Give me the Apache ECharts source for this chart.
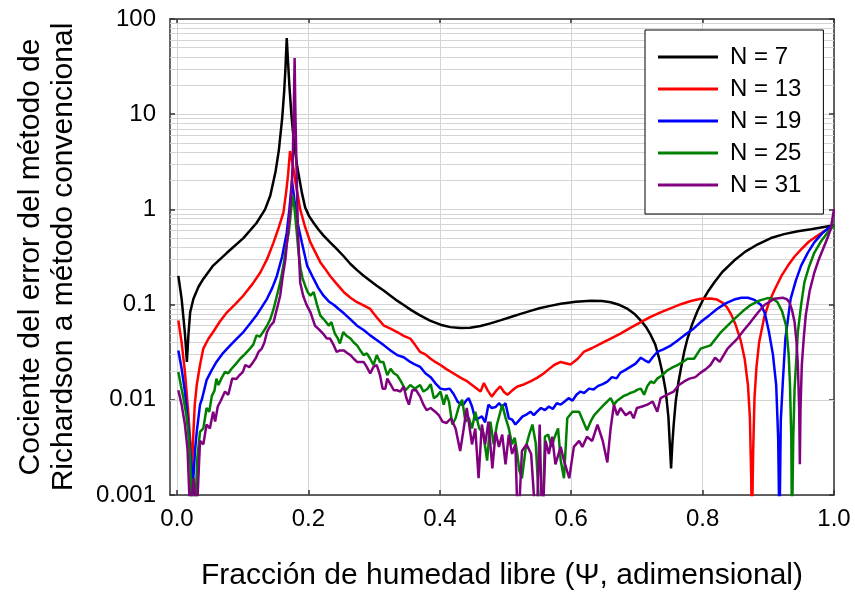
<!DOCTYPE html>
<html>
<head>
<meta charset="utf-8">
<script src="https://cdn.jsdelivr.net/npm/echarts@6/dist/echarts.min.js"></script>
<style>html,body{margin:0;padding:0;background:#fff}#c{width:855px;height:596px}</style>
</head>
<body>
<div id="c"></div>
<script>
const seriesNames = ['N = 7', 'N = 13', 'N = 19', 'N = 25', 'N = 31'];
const xTickValues = [0, 0.2, 0.4, 0.6, 0.8, 1.0];
const yTickLabels = ['0.001', '0.01', '0.1', '1', '10', '100'];
const yMinorGrid = [0.002,0.003,0.004,0.005,0.006,0.007,0.008,0.009,
  0.02,0.03,0.04,0.05,0.06,0.07,0.08,0.09,
  0.2,0.3,0.4,0.5,0.6,0.7,0.8,0.9,
  2,3,4,5,6,7,8,9, 20,30,40,50,60,70,80,90];

const dataN7 = [[0.002,0.2],[0.007,0.115],[0.012,0.05],[0.015,0.025],[0.0175,0.05],[0.02,0.083],[0.025,0.115],[0.0325,0.153],[0.04,0.186],[0.055,0.257],[0.076,0.35],[0.101,0.50],[0.121,0.72],[0.134,1.0],[0.142,1.4],[0.150,2.5],[0.155,4.2],[0.160,9],[0.163,17],[0.165,30],[0.167,63],[0.169,35],[0.171,20],[0.174,10],[0.178,5],[0.183,2.8],[0.19,1.5],[0.195,1.05],[0.201,0.85],[0.208,0.72],[0.215,0.62],[0.223,0.53],[0.233,0.45],[0.243,0.384],[0.254,0.32],[0.264,0.267],[0.274,0.23],[0.284,0.201],[0.294,0.178],[0.304,0.158],[0.315,0.14],[0.325,0.124],[0.335,0.11],[0.345,0.099],[0.357,0.087],[0.37,0.077],[0.385,0.068],[0.401,0.0615],[0.416,0.058],[0.431,0.0567],[0.446,0.057],[0.462,0.0595],[0.477,0.0635],[0.492,0.0683],[0.508,0.074],[0.523,0.080],[0.538,0.086],[0.553,0.092],[0.568,0.097],[0.584,0.102],[0.607,0.107],[0.63,0.110],[0.647,0.109],[0.66,0.106],[0.674,0.099],[0.686,0.090],[0.697,0.079],[0.706,0.068],[0.714,0.058],[0.721,0.048],[0.728,0.038],[0.734,0.027],[0.739,0.019],[0.744,0.0122],[0.748,0.0065],[0.750,0.0035],[0.752,0.0019],[0.754,0.0035],[0.756,0.0055],[0.759,0.0095],[0.763,0.015],[0.767,0.0213],[0.772,0.032],[0.777,0.044],[0.784,0.062],[0.792,0.085],[0.800,0.11],[0.809,0.14],[0.818,0.172],[0.83,0.22],[0.848,0.29],[0.865,0.36],[0.884,0.43],[0.904,0.50],[0.924,0.55],[0.945,0.59],[0.965,0.62],[0.985,0.655],[1.0,0.68]];

const dataN13 = [[0.002,0.068],[0.007,0.04],[0.012,0.0196],[0.017,0.0075],[0.021,0.003],[0.022,0.0015],[0.025,0.0046],[0.027,0.0089],[0.03,0.0143],[0.035,0.0232],[0.04,0.0345],[0.048,0.044],[0.055,0.0515],[0.065,0.066],[0.076,0.083],[0.088,0.10],[0.101,0.1245],[0.115,0.165],[0.127,0.219],[0.137,0.30],[0.147,0.45],[0.155,0.65],[0.162,0.93],[0.166,1.5],[0.169,2.3],[0.172,4.1],[0.176,3.0],[0.18,2.0],[0.1875,1.0],[0.195,0.65],[0.203,0.45],[0.21,0.36],[0.218,0.279],[0.225,0.24],[0.233,0.20],[0.243,0.165],[0.254,0.135],[0.264,0.118],[0.274,0.106],[0.284,0.098],[0.294,0.090],[0.305,0.072],[0.315,0.060],[0.325,0.056],[0.335,0.0515],[0.345,0.047],[0.355,0.044],[0.362,0.038],[0.37,0.0318],[0.378,0.030],[0.386,0.027],[0.393,0.025],[0.401,0.0232],[0.41,0.021],[0.421,0.0189],[0.432,0.017],[0.442,0.0156],[0.452,0.0138],[0.462,0.0122],[0.467,0.0150],[0.473,0.0125],[0.479,0.0108],[0.486,0.0125],[0.492,0.0138],[0.498,0.0120],[0.503,0.0113],[0.51,0.0125],[0.518,0.0138],[0.528,0.0145],[0.538,0.0156],[0.548,0.017],[0.558,0.0189],[0.566,0.021],[0.574,0.0232],[0.584,0.025],[0.599,0.0235],[0.61,0.027],[0.619,0.0318],[0.632,0.035],[0.645,0.0389],[0.66,0.044],[0.675,0.0495],[0.69,0.057],[0.706,0.0655],[0.72,0.074],[0.736,0.083],[0.752,0.092],[0.767,0.101],[0.782,0.109],[0.797,0.115],[0.812,0.116],[0.822,0.113],[0.83,0.105],[0.837,0.094],[0.843,0.08],[0.85,0.062],[0.858,0.042],[0.864,0.027],[0.869,0.0143],[0.872,0.0065],[0.874,0.0015],[0.875,0.0004],[0.877,0.003],[0.879,0.0105],[0.882,0.022],[0.886,0.040],[0.894,0.075],[0.902,0.11],[0.91,0.145],[0.92,0.2],[0.93,0.257],[0.94,0.32],[0.95,0.38],[0.962,0.46],[0.975,0.53],[0.985,0.59],[0.995,0.65],[1.0,0.68]];

const dataN19 = [[0.002,0.033],[0.007,0.0212],[0.012,0.0122],[0.017,0.0055],[0.021,0.0024],[0.024,0.0012],[0.0275,0.003],[0.03,0.0046],[0.035,0.0089],[0.038,0.0102],[0.045,0.0161],[0.052,0.02],[0.06,0.025],[0.07,0.031],[0.081,0.0373],[0.091,0.044],[0.101,0.0515],[0.111,0.063],[0.121,0.0773],[0.129,0.094],[0.137,0.115],[0.145,0.15],[0.152,0.20],[0.16,0.32],[0.167,0.57],[0.171,1.0],[0.175,2.0],[0.179,1.2],[0.184,0.7],[0.19,0.45],[0.198,0.257],[0.208,0.186],[0.215,0.15],[0.223,0.124],[0.231,0.108],[0.239,0.099],[0.246,0.09],[0.254,0.081],[0.264,0.07],[0.274,0.060],[0.284,0.054],[0.294,0.0475],[0.305,0.042],[0.315,0.0373],[0.325,0.033],[0.335,0.0295],[0.345,0.028],[0.355,0.025],[0.362,0.0235],[0.37,0.0222],[0.378,0.019],[0.386,0.0173],[0.393,0.015],[0.401,0.0131],[0.408,0.0128],[0.415,0.0131],[0.421,0.0115],[0.427,0.0096],[0.432,0.0089],[0.436,0.0089],[0.44,0.0098],[0.444,0.0104],[0.449,0.0085],[0.454,0.0062],[0.459,0.0064],[0.464,0.0067],[0.469,0.0058],[0.474,0.0089],[0.479,0.0082],[0.485,0.0084],[0.49,0.0092],[0.495,0.0085],[0.5,0.0092],[0.505,0.0064],[0.51,0.0062],[0.515,0.0055],[0.52,0.006],[0.526,0.0067],[0.532,0.0070],[0.538,0.0075],[0.543,0.0069],[0.548,0.0075],[0.554,0.0082],[0.56,0.0078],[0.566,0.0085],[0.572,0.008],[0.578,0.0092],[0.584,0.0089],[0.59,0.0096],[0.596,0.0104],[0.602,0.0098],[0.608,0.0113],[0.614,0.0122],[0.62,0.0118],[0.627,0.0131],[0.634,0.0128],[0.641,0.014],[0.648,0.0146],[0.655,0.0155],[0.662,0.0173],[0.669,0.0168],[0.675,0.0193],[0.682,0.0205],[0.69,0.0222],[0.698,0.0240],[0.706,0.0277],[0.712,0.026],[0.718,0.0247],[0.724,0.028],[0.731,0.0318],[0.741,0.034],[0.752,0.0373],[0.762,0.042],[0.772,0.0475],[0.785,0.055],[0.797,0.0655],[0.81,0.077],[0.822,0.090],[0.835,0.103],[0.848,0.113],[0.859,0.118],[0.869,0.118],[0.879,0.112],[0.889,0.099],[0.895,0.08],[0.901,0.0515],[0.907,0.03],[0.912,0.0143],[0.915,0.004],[0.917,0.0004],[0.919,0.006],[0.922,0.015],[0.926,0.044],[0.934,0.115],[0.942,0.18],[0.95,0.257],[0.96,0.35],[0.97,0.45],[0.982,0.56],[0.993,0.65],[1.0,0.68]];

const dataN25 = [[0.002,0.0196],[0.006,0.014],[0.01,0.0102],[0.014,0.007],[0.017,0.0046],[0.02,0.0025],[0.022,0.0008],[0.025,0.0015],[0.028,0.0008],[0.031,0.0025],[0.035,0.0046],[0.04,0.005],[0.045,0.0082],[0.049,0.0075],[0.053,0.011],[0.057,0.0125],[0.06,0.0167],[0.063,0.0143],[0.068,0.017],[0.073,0.0196],[0.078,0.019],[0.083,0.0212],[0.09,0.024],[0.096,0.027],[0.103,0.030],[0.111,0.0345],[0.116,0.038],[0.121,0.0475],[0.126,0.046],[0.131,0.0515],[0.137,0.060],[0.142,0.0705],[0.147,0.09],[0.152,0.124],[0.157,0.17],[0.162,0.257],[0.166,0.4],[0.17,0.57],[0.173,0.9],[0.176,1.4],[0.179,1.0],[0.182,0.6],[0.185,0.35],[0.188,0.24],[0.191,0.19],[0.195,0.158],[0.199,0.135],[0.203,0.124],[0.208,0.135],[0.213,0.1],[0.218,0.077],[0.223,0.0705],[0.228,0.064],[0.231,0.060],[0.235,0.0655],[0.24,0.05],[0.244,0.045],[0.248,0.039],[0.253,0.0515],[0.258,0.047],[0.264,0.044],[0.269,0.04],[0.274,0.0373],[0.279,0.033],[0.284,0.0295],[0.289,0.0308],[0.294,0.027],[0.299,0.0232],[0.304,0.0295],[0.309,0.025],[0.314,0.025],[0.32,0.0181],[0.325,0.0212],[0.33,0.019],[0.335,0.0181],[0.34,0.016],[0.348,0.0126],[0.355,0.0143],[0.362,0.0131],[0.37,0.0143],[0.375,0.0122],[0.381,0.013],[0.386,0.0146],[0.391,0.0104],[0.396,0.011],[0.401,0.0122],[0.406,0.0089],[0.41,0.0113],[0.414,0.0095],[0.419,0.0055],[0.424,0.0064],[0.429,0.0085],[0.434,0.0100],[0.439,0.0059],[0.444,0.0065],[0.449,0.0050],[0.454,0.0075],[0.46,0.005],[0.466,0.0045],[0.472,0.0023],[0.477,0.0059],[0.482,0.0034],[0.487,0.0055],[0.495,0.0089],[0.5,0.0065],[0.505,0.005],[0.51,0.0034],[0.514,0.004],[0.518,0.0027],[0.521,0.0018],[0.525,0.0015],[0.531,0.0032],[0.536,0.0043],[0.541,0.0055],[0.546,0.0035],[0.551,0.0008],[0.556,0.0004],[0.56,0.0041],[0.565,0.0043],[0.57,0.0032],[0.575,0.0041],[0.58,0.005],[0.584,0.0023],[0.589,0.0015],[0.594,0.0064],[0.602,0.0075],[0.612,0.0075],[0.618,0.006],[0.624,0.0048],[0.63,0.006],[0.635,0.0069],[0.64,0.0075],[0.645,0.0082],[0.65,0.0089],[0.655,0.0096],[0.66,0.0104],[0.665,0.0089],[0.67,0.0098],[0.675,0.0104],[0.68,0.0110],[0.685,0.0113],[0.69,0.0118],[0.696,0.0122],[0.701,0.0128],[0.706,0.0131],[0.711,0.0113],[0.716,0.0140],[0.721,0.0156],[0.726,0.0150],[0.731,0.0167],[0.738,0.018],[0.746,0.0203],[0.755,0.022],[0.762,0.0232],[0.77,0.025],[0.777,0.027],[0.787,0.027],[0.797,0.0345],[0.812,0.0373],[0.828,0.0515],[0.848,0.0705],[0.861,0.085],[0.873,0.099],[0.886,0.11],[0.899,0.117],[0.907,0.115],[0.914,0.106],[0.921,0.085],[0.927,0.0603],[0.931,0.03],[0.933,0.0143],[0.935,0.004],[0.936,0.0004],[0.938,0.004],[0.940,0.013],[0.945,0.0515],[0.95,0.1],[0.955,0.172],[0.962,0.25],[0.97,0.35],[0.98,0.46],[0.99,0.57],[1.0,0.68]];

const dataN31 = [[0.002,0.0126],[0.007,0.0089],[0.012,0.0055],[0.016,0.003],[0.02,0.0006],[0.025,0.0015],[0.03,0.0006],[0.035,0.0037],[0.04,0.0034],[0.045,0.0055],[0.05,0.005],[0.055,0.0075],[0.058,0.0059],[0.062,0.0085],[0.066,0.0096],[0.073,0.0122],[0.078,0.0113],[0.084,0.0167],[0.09,0.0165],[0.095,0.0181],[0.1,0.0195],[0.104,0.0232],[0.11,0.022],[0.116,0.025],[0.12,0.0275],[0.124,0.0318],[0.129,0.0345],[0.133,0.04],[0.137,0.0515],[0.142,0.06],[0.147,0.0655],[0.152,0.09],[0.157,0.124],[0.161,0.2],[0.165,0.30],[0.168,0.5],[0.171,0.8],[0.174,1.5],[0.176,3],[0.178,15],[0.179,39],[0.180,12],[0.182,2.5],[0.184,0.6],[0.1875,0.17],[0.192,0.124],[0.197,0.1],[0.203,0.0834],[0.21,0.06],[0.216,0.055],[0.223,0.0489],[0.228,0.044],[0.233,0.044],[0.238,0.038],[0.243,0.0318],[0.248,0.033],[0.254,0.033],[0.259,0.031],[0.264,0.0295],[0.269,0.027],[0.274,0.025],[0.279,0.025],[0.284,0.025],[0.289,0.022],[0.294,0.0189],[0.299,0.0222],[0.304,0.0232],[0.309,0.018],[0.313,0.0131],[0.317,0.0131],[0.32,0.0167],[0.325,0.0145],[0.33,0.0126],[0.335,0.0126],[0.34,0.0122],[0.345,0.0138],[0.349,0.0105],[0.353,0.0089],[0.358,0.0126],[0.364,0.0126],[0.37,0.0108],[0.375,0.0089],[0.38,0.0078],[0.386,0.0082],[0.393,0.0075],[0.399,0.0068],[0.404,0.0059],[0.41,0.0057],[0.417,0.0064],[0.424,0.005],[0.431,0.0029],[0.436,0.0048],[0.441,0.0082],[0.449,0.0034],[0.454,0.005],[0.459,0.0015],[0.464,0.0055],[0.469,0.0034],[0.474,0.0059],[0.48,0.0019],[0.485,0.0046],[0.49,0.0032],[0.495,0.0043],[0.5,0.0021],[0.505,0.0043],[0.51,0.0027],[0.515,0.0034],[0.519,0.0004],[0.525,0.0029],[0.532,0.0034],[0.539,0.0027],[0.547,0.0004],[0.552,0.0055],[0.556,0.0004],[0.561,0.0037],[0.566,0.0027],[0.571,0.0041],[0.576,0.0021],[0.584,0.0032],[0.589,0.0023],[0.597,0.0015],[0.604,0.0032],[0.612,0.0037],[0.617,0.0032],[0.624,0.0041],[0.632,0.0037],[0.64,0.0055],[0.648,0.0037],[0.655,0.0022],[0.66,0.005],[0.665,0.0089],[0.67,0.0069],[0.675,0.0082],[0.683,0.0069],[0.69,0.0075],[0.695,0.0064],[0.7,0.0082],[0.708,0.0085],[0.716,0.0089],[0.724,0.0096],[0.731,0.0075],[0.736,0.0104],[0.746,0.0113],[0.756,0.0122],[0.764,0.0143],[0.772,0.0156],[0.78,0.0167],[0.789,0.0173],[0.797,0.0193],[0.805,0.021],[0.812,0.0232],[0.819,0.0277],[0.826,0.025],[0.838,0.0345],[0.853,0.044],[0.863,0.054],[0.873,0.0655],[0.884,0.082],[0.894,0.099],[0.909,0.115],[0.922,0.118],[0.928,0.114],[0.932,0.106],[0.936,0.088],[0.94,0.0655],[0.943,0.04],[0.945,0.0232],[0.947,0.008],[0.948,0.0021],[0.949,0.008],[0.951,0.0232],[0.954,0.045],[0.957,0.077],[0.963,0.14],[0.97,0.216],[0.977,0.3],[0.985,0.41],[0.991,0.52],[0.995,0.62],[1.0,1.0]];

const seriesData = [dataN7, dataN13, dataN19, dataN25, dataN31];
const seriesColors = ['#000000', '#ff0000', '#0000ff', '#008000', '#800080'];

const FONT = 'Liberation Sans, Arial, Helvetica, sans-serif';
const frameColor = '#333333';
const gridColor = '#d4d4d4';

const chart = echarts.init(document.getElementById('c'), null, {renderer: 'canvas'});

const xMin = -0.0107, xMax = 1.0;
const yMin = 0.001, yMax = 100;

const series = seriesData.map((d, i) => ({
  name: seriesNames[i],
  type: 'line',
  data: d,
  symbol: 'none',
  showSymbol: false,
  smooth: false,
  clip: true,
  z: 3,
  lineStyle: {color: seriesColors[i], width: 2.5},
  itemStyle: {color: seriesColors[i]},
  emphasis: {disabled: true}
}));

series.unshift({
  name: 'grid-helper',
  type: 'line',
  data: [],
  z: 1,
  silent: true,
  markLine: {
    z: 1,
    silent: true,
    symbol: ['none', 'none'],
    label: {show: false},
    animation: false,
    lineStyle: {color: gridColor, width: 1, type: 'solid'},
    emphasis: {disabled: true},
    data: yMinorGrid.map(v => ({yAxis: v}))
  }
});

const option = {
  animation: false,
  backgroundColor: '#ffffff',
  textStyle: {fontFamily: FONT},
  grid: {left: 170, right: 21, top: 19, bottom: 99, containLabel: false},
  legend: {
    z: 20,
    data: seriesNames.map((n, i) => ({name: n, icon: 'rect', itemStyle: {color: seriesColors[i]}})),
    orient: 'vertical',
    left: 645,
    top: 30,
    padding: [15, 22, 17, 13],
    itemWidth: 60,
    itemHeight: 3,
    itemGap: 8,
    backgroundColor: '#ffffff',
    borderColor: '#000000',
    borderWidth: 1,
    textStyle: {fontSize: 24, color: '#000', fontFamily: FONT, padding: [0, 0, 0, 7]},
    selectedMode: false
  },
  xAxis: [{
    type: 'value',
    min: xMin, max: xMax,
    position: 'bottom',
    axisLine: {show: true, onZero: false, lineStyle: {color: frameColor, width: 1.5}},
    axisTick: {show: true, inside: true, length: 5, customValues: xTickValues, lineStyle: {color: frameColor, width: 1.5}},
    axisLabel: {show: true, customValues: xTickValues, margin: 12, fontSize: 24, color: '#000', fontFamily: FONT,
      formatter: v => Number(v).toFixed(1)},
    splitLine: {show: true, lineStyle: {color: gridColor, width: 1}},
    name: 'Fracción de humedad libre (Ψ, adimensional)',
    nameLocation: 'middle',
    nameGap: 66,
    nameTextStyle: {fontSize: 30, color: '#000', fontFamily: FONT}
  }, {
    type: 'value',
    min: xMin, max: xMax,
    position: 'top',
    axisLine: {show: true, onZero: false, lineStyle: {color: frameColor, width: 1.5}},
    axisTick: {show: true, inside: true, length: 5, customValues: xTickValues, lineStyle: {color: frameColor, width: 1.5}},
    axisLabel: {show: false},
    splitLine: {show: false}
  }],
  yAxis: [{
    type: 'log',
    logBase: 10,
    min: yMin, max: yMax,
    position: 'left',
    axisLine: {show: true, onZero: false, lineStyle: {color: frameColor, width: 1.5}},
    axisTick: {show: true, inside: true, length: 5, lineStyle: {color: frameColor, width: 1.5}},
    axisLabel: {show: true, margin: 14, fontSize: 24, color: '#000', fontFamily: FONT,
      formatter: v => yTickLabels[Math.round(Math.log10(v)) + 3]},
    splitLine: {show: true, lineStyle: {color: gridColor, width: 1}},
    minorTick: {show: false},
    minorSplitLine: {show: false},
    name: 'Cociente del error del método de\nRichardson a método convencional',
    nameLocation: 'middle',
    nameRotate: 90,
    nameGap: 90,
    nameTextStyle: {fontSize: 30, lineHeight: 33, color: '#000', fontFamily: FONT, align: 'center'}
  }, {
    type: 'log',
    logBase: 10,
    min: yMin, max: yMax,
    position: 'right',
    axisLine: {show: true, onZero: false, lineStyle: {color: frameColor, width: 1.5}},
    axisTick: {show: true, inside: true, length: 5, lineStyle: {color: frameColor, width: 1.5}},
    axisLabel: {show: false},
    splitLine: {show: false}
  }],
  series: series
};

chart.setOption(option);
</script>
</body>
</html>
